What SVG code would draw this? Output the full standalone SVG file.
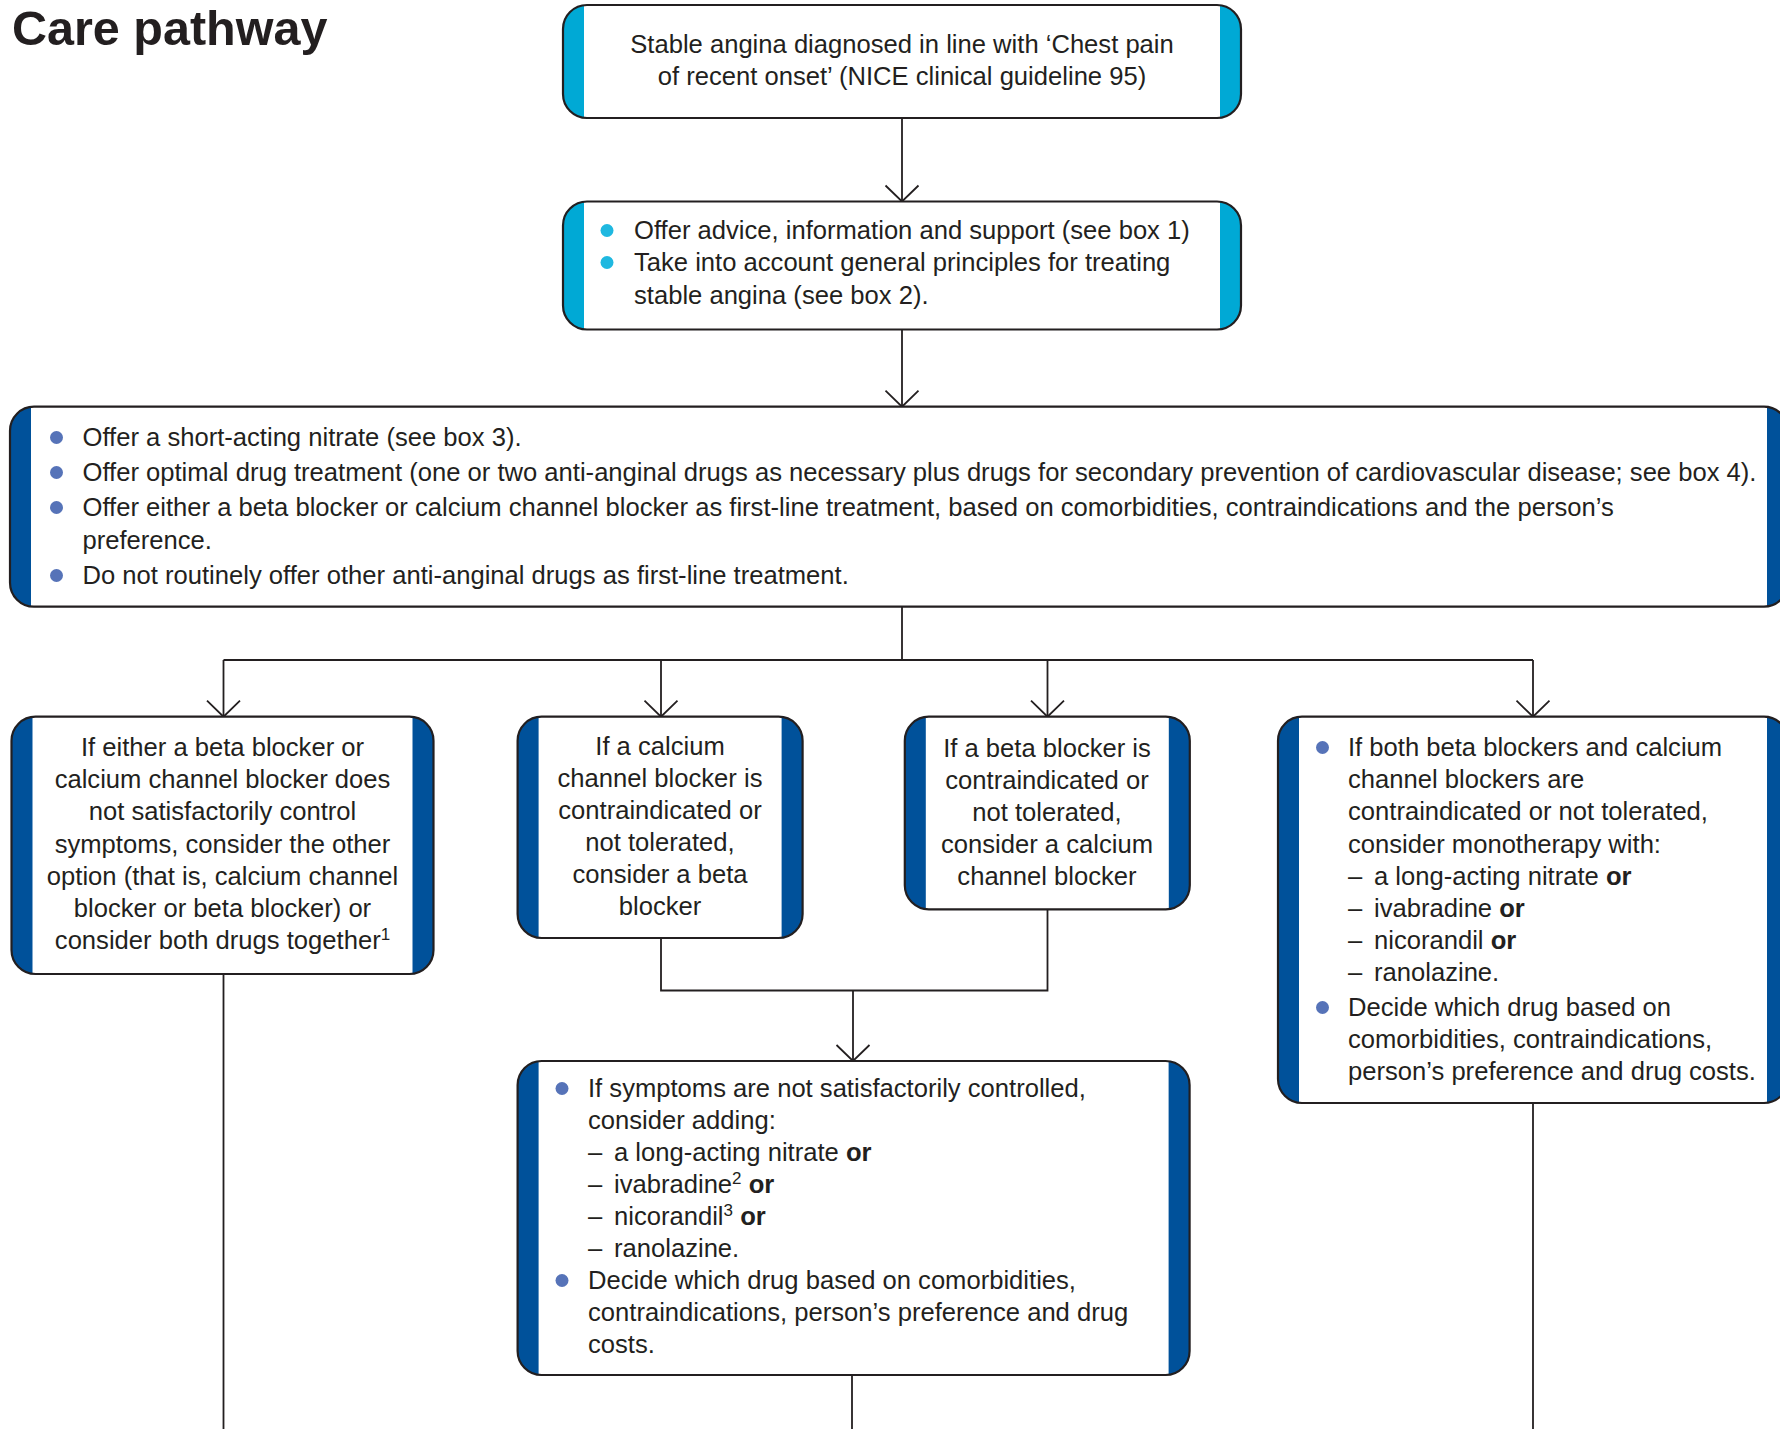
<svg xmlns="http://www.w3.org/2000/svg" width="1780" height="1429" viewBox="0 0 1780 1429">
<defs>
<style>
text { font-family: "Liberation Sans", Arial, sans-serif; font-size: 25.6px; fill: #231F20; }
.title { font-size: 48.5px; font-weight: bold; }
.c { text-anchor: middle; }
.b { font-weight: bold; }
.sup { font-size: 17px; }
.frame { fill: none; stroke: #231F20; stroke-width: 2.2; }
.cyan { fill: #00A9D5; }
.blue { fill: #00519A; }
.inner { fill: #FFFFFF; }
.dot1 { fill: #1FB8E0; }
.dot2 { fill: #5673B8; }
.conn path { fill: none; stroke: #231F20; stroke-width: 1.8; }
</style>
<marker id="arr" markerUnits="userSpaceOnUse" markerWidth="20" markerHeight="36" refX="17" refY="18" orient="auto" overflow="visible">
<path d="M1,1.5 L17,18 L1,34.5" fill="none" stroke="#231F20" stroke-width="1.8"/>
</marker>
</defs>
<rect width="1780" height="1429" fill="#FFFFFF"/>
<text id="title" class="title" x="12" y="44.5">Care pathway</text>

<g id="connectors" class="conn">
<path d="M902,118 V201.5" marker-end="url(#arr)"/>
<path d="M902,329.5 V406.7" marker-end="url(#arr)"/>
<path d="M902,606.7 V660 M223.5,660 H1533"/>
<path d="M223.5,660 V716.7" marker-end="url(#arr)"/>
<path d="M661,660 V716.7" marker-end="url(#arr)"/>
<path d="M1047.5,660 V716.7" marker-end="url(#arr)"/>
<path d="M1533,660 V716.7" marker-end="url(#arr)"/>
<path d="M661,938 V990.5 H1047.5 V909.3"/>
<path d="M853,990.5 V1061" marker-end="url(#arr)"/>
<path d="M223.5,974 V1429"/>
<path d="M852,1375 V1429"/>
<path d="M1533,1103 V1429"/>
</g>

<g id="box1">
<rect class="cyan" x="563" y="5" width="678" height="113" rx="24"/>
<rect class="inner" x="584" y="5" width="636" height="113"/>
<rect class="frame" x="563" y="5" width="678" height="113" rx="24"/>
<text class="c" x="902" y="53">Stable angina diagnosed in line with ‘Chest pain</text>
<text class="c" x="902" y="85">of recent onset’ (NICE clinical guideline 95)</text>
</g>

<g id="box2">
<rect class="cyan" x="563" y="201.5" width="678" height="128" rx="24"/>
<rect class="inner" x="584" y="201.5" width="636" height="128"/>
<rect class="frame" x="563" y="201.5" width="678" height="128" rx="24"/>
<circle class="dot1" cx="607" cy="230.5" r="6.5"/>
<circle class="dot1" cx="607" cy="262.5" r="6.5"/>
<text x="634" y="239">Offer advice, information and support (see box 1)</text>
<text x="634" y="271">Take into account general principles for treating</text>
<text x="634" y="303.5">stable angina (see box 2).</text>
</g>

<g id="box3">
<rect class="blue" x="10" y="406.7" width="1778" height="200" rx="24"/>
<rect class="inner" x="31" y="406.7" width="1736" height="200"/>
<rect class="frame" x="10" y="406.7" width="1778" height="200" rx="24"/>
<circle class="dot2" cx="56.5" cy="437.5" r="6.5"/>
<circle class="dot2" cx="56.5" cy="472.5" r="6.5"/>
<circle class="dot2" cx="56.5" cy="507.5" r="6.5"/>
<circle class="dot2" cx="56.5" cy="575.5" r="6.5"/>
<text x="82.5" y="446">Offer a short-acting nitrate (see box 3).</text>
<text x="82.5" y="481">Offer optimal drug treatment (one or two anti-anginal drugs as necessary plus drugs for secondary prevention of cardiovascular disease; see box 4).</text>
<text x="82.5" y="516">Offer either a beta blocker or calcium channel blocker as first-line treatment, based on comorbidities, contraindications and the person’s</text>
<text x="82.5" y="548.5">preference.</text>
<text x="82.5" y="584">Do not routinely offer other anti-anginal drugs as first-line treatment.</text>
</g>

<g id="boxA">
<rect class="blue" x="11.5" y="716.7" width="422" height="257.3" rx="24"/>
<rect class="inner" x="32.5" y="716.7" width="380" height="257.3"/>
<rect class="frame" x="11.5" y="716.7" width="422" height="257.3" rx="24"/>
<text class="c" x="222.5" y="756">If either a beta blocker or</text>
<text class="c" x="222.5" y="788.2">calcium channel blocker does</text>
<text class="c" x="222.5" y="820.4">not satisfactorily control</text>
<text class="c" x="222.5" y="852.6">symptoms, consider the other</text>
<text class="c" x="222.5" y="884.8">option (that is, calcium channel</text>
<text class="c" x="222.5" y="917">blocker or beta blocker) or</text>
<text class="c" x="222.5" y="949.2">consider both drugs together<tspan class="sup" dy="-9">1</tspan></text>
</g>

<g id="boxB">
<rect class="blue" x="517.6" y="716.7" width="285" height="221.3" rx="24"/>
<rect class="inner" x="538.6" y="716.7" width="243" height="221.3"/>
<rect class="frame" x="517.6" y="716.7" width="285" height="221.3" rx="24"/>
<text class="c" x="660" y="755">If a calcium</text>
<text class="c" x="660" y="787">channel blocker is</text>
<text class="c" x="660" y="819">contraindicated or</text>
<text class="c" x="660" y="851">not tolerated,</text>
<text class="c" x="660" y="883">consider a beta</text>
<text class="c" x="660" y="915">blocker</text>
</g>

<g id="boxC">
<rect class="blue" x="904.8" y="716.7" width="285" height="192.6" rx="24"/>
<rect class="inner" x="925.8" y="716.7" width="243" height="192.6"/>
<rect class="frame" x="904.8" y="716.7" width="285" height="192.6" rx="24"/>
<text class="c" x="1047" y="757">If a beta blocker is</text>
<text class="c" x="1047" y="789">contraindicated or</text>
<text class="c" x="1047" y="821">not tolerated,</text>
<text class="c" x="1047" y="853">consider a calcium</text>
<text class="c" x="1047" y="885">channel blocker</text>
</g>

<g id="boxD">
<rect class="blue" x="1278" y="716.7" width="510" height="386.3" rx="24"/>
<rect class="inner" x="1299" y="716.7" width="468" height="386.3"/>
<rect class="frame" x="1278" y="716.7" width="510" height="386.3" rx="24"/>
<circle class="dot2" cx="1322.5" cy="747.5" r="6.5"/>
<circle class="dot2" cx="1322.5" cy="1007.5" r="6.5"/>
<text x="1348" y="756">If both beta blockers and calcium</text>
<text x="1348" y="788.2">channel blockers are</text>
<text x="1348" y="820.4">contraindicated or not tolerated,</text>
<text x="1348" y="852.6">consider monotherapy with:</text>
<text x="1348" y="884.8">–</text>
<text x="1374" y="884.8">a long-acting nitrate <tspan class="b">or</tspan></text>
<text x="1348" y="917">–</text>
<text x="1374" y="917">ivabradine <tspan class="b">or</tspan></text>
<text x="1348" y="949.2">–</text>
<text x="1374" y="949.2">nicorandil <tspan class="b">or</tspan></text>
<text x="1348" y="981.4">–</text>
<text x="1374" y="981.4">ranolazine.</text>
<text x="1348" y="1016">Decide which drug based on</text>
<text x="1348" y="1048.2">comorbidities, contraindications,</text>
<text x="1348" y="1080.4">person’s preference and drug costs.</text>
</g>

<g id="boxE">
<rect class="blue" x="517.6" y="1061" width="672" height="314" rx="24"/>
<rect class="inner" x="538.6" y="1061" width="630" height="314"/>
<rect class="frame" x="517.6" y="1061" width="672" height="314" rx="24"/>
<circle class="dot2" cx="562" cy="1088.5" r="6.5"/>
<circle class="dot2" cx="562" cy="1280.5" r="6.5"/>
<text x="588" y="1097">If symptoms are not satisfactorily controlled,</text>
<text x="588" y="1129">consider adding:</text>
<text x="588" y="1161">–</text>
<text x="614" y="1161">a long-acting nitrate <tspan class="b">or</tspan></text>
<text x="588" y="1193">–</text>
<text x="614" y="1193">ivabradine<tspan class="sup" dy="-9">2</tspan><tspan class="b" dy="9"> or</tspan></text>
<text x="588" y="1225">–</text>
<text x="614" y="1225">nicorandil<tspan class="sup" dy="-9">3</tspan><tspan class="b" dy="9"> or</tspan></text>
<text x="588" y="1257">–</text>
<text x="614" y="1257">ranolazine.</text>
<text x="588" y="1289">Decide which drug based on comorbidities,</text>
<text x="588" y="1321">contraindications, person’s preference and drug</text>
<text x="588" y="1353">costs.</text>
</g>
</svg>
